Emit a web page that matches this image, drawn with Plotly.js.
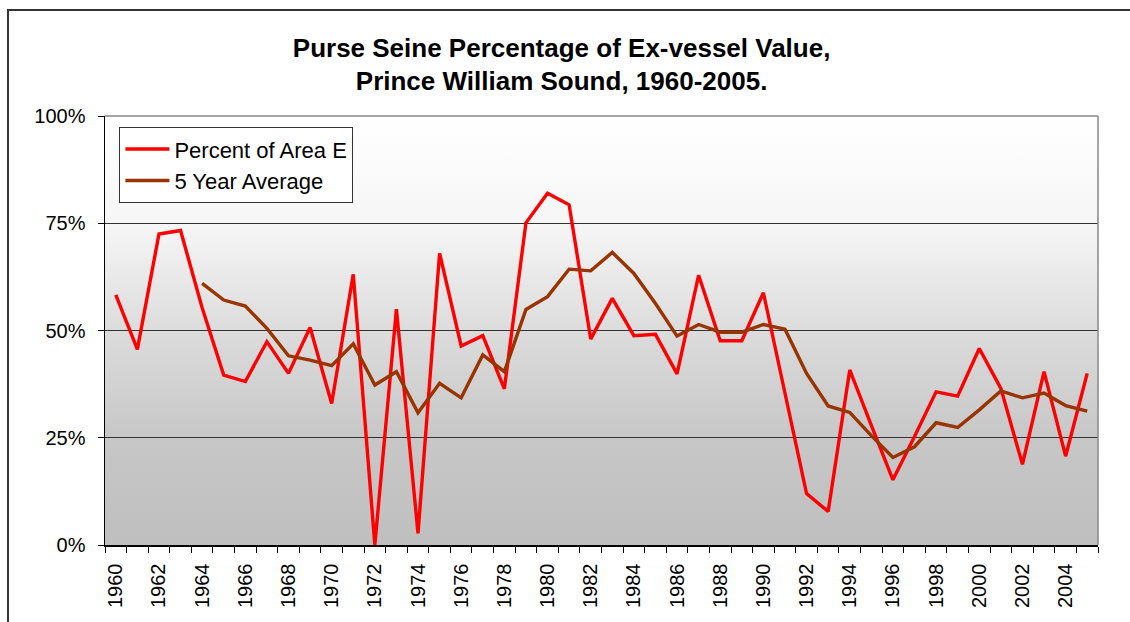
<!DOCTYPE html>
<html>
<head>
<meta charset="utf-8">
<script src="https://cdn.plot.ly/plotly-3.0.1.min.js"></script>
<style>
  html, body { margin: 0; padding: 0; background: #ffffff; overflow: hidden; }
  #chart { width: 1130px; height: 622px; position: relative; }
  #frame { position: absolute; left: 7px; top: 9px; width: 1200px; height: 700px;
           border-left: 2px solid #333333; border-top: 2px solid #333333; pointer-events: none; }
</style>
</head>
<body>
<div id="chart"></div>
<div id="frame"></div>
<script>
// ---- data ----
const years = [1960,1961,1962,1963,1964,1965,1966,1967,1968,1969,
               1970,1971,1972,1973,1974,1975,1976,1977,1978,1979,
               1980,1981,1982,1983,1984,1985,1986,1987,1988,1989,
               1990,1991,1992,1993,1994,1995,1996,1997,1998,1999,
               2000,2001,2002,2003,2004,2005];

const percentOfAreaE = [58.3,45.6,72.5,73.3,55.3,39.6,38.1,47.4,40.0,50.7,
                        33.0,63.1,0.0,55.0,2.7,68.0,46.4,48.8,36.4,75.1,
                        82.0,79.3,48.0,57.5,48.8,49.1,39.9,62.9,47.6,47.6,
                        58.8,35.4,12.0,7.8,40.8,27.9,15.2,25.3,35.7,34.7,
                        45.8,36.5,18.8,40.4,20.7,40.0];

const fiveYearAverage = [null,null,null,null,61.0,57.1,55.7,50.5,44.1,43.1,
                         41.8,46.9,37.3,40.4,30.8,37.7,34.3,44.3,40.4,54.9,
                         57.9,64.3,63.9,68.2,63.3,56.3,48.7,51.4,49.6,49.6,
                         51.4,50.3,40.0,32.4,30.9,25.5,20.4,22.9,28.5,27.4,
                         31.5,35.9,34.3,35.4,32.5,31.2];

const tickYears = [1960,1962,1964,1966,1968,1970,1972,1974,1976,1978,1980,
                   1982,1984,1986,1988,1990,1992,1994,1996,1998,2000,2002,2004];
const tickLabels = tickYears.map(String);
const yTicks = [0,25,50,75,100];
const yTickLabels = ["0%","25%","50%","75%","100%"];

const seriesNames = ["Percent of Area E", "5 Year Average"];
const titleText = "Purse Seine Percentage of Ex-vessel Value,<br>Prince William Sound, 1960-2005.";

// ---- background gradient as an inline SVG image ----
const gradSvg = '<svg xmlns="http://www.w3.org/2000/svg" width="100" height="100" preserveAspectRatio="none">' +
  '<defs><linearGradient id="g" x1="0" y1="0" x2="0" y2="1">' +
  '<stop offset="0" stop-color="#ffffff"/>' +
  '<stop offset="0.25" stop-color="#f6f6f6"/>' +
  '<stop offset="0.5" stop-color="#dcdcdc"/>' +
  '<stop offset="0.75" stop-color="#c7c7c7"/>' +
  '<stop offset="1" stop-color="#bfbfbf"/>' +
  '</linearGradient></defs><rect width="100" height="100" fill="url(#g)"/></svg>';
const gradUri = 'data:image/svg+xml;base64,' + btoa(gradSvg);

const FONT = '"Liberation Sans", Arial, sans-serif';

const traces = [
  {
    x: years, y: percentOfAreaE, name: seriesNames[0],
    type: 'scatter', mode: 'lines',
    line: { color: '#ff0000', width: 3.4 },
    legendgroup: 'a', hoverinfo: 'x+y'
  },
  {
    x: years, y: fiveYearAverage, name: seriesNames[1],
    type: 'scatter', mode: 'lines', connectgaps: false,
    line: { color: '#993300', width: 3.4 },
    legendgroup: 'b', hoverinfo: 'x+y'
  }
];

const layout = {
  width: 1130, height: 622,
  margin: { l: 105, r: 32, t: 116, b: 77, pad: 0 },
  paper_bgcolor: '#ffffff',
  plot_bgcolor: 'rgba(0,0,0,0)',
  font: { family: FONT, color: '#000000', size: 20 },
  title: {
    text: titleText,
    font: { family: FONT, size: 26, color: '#000000', weight: 'bold' },
    x: 0.497, xref: 'container', xanchor: 'center',
    y: 0.909, yref: 'container', yanchor: 'top'
  },
  showlegend: true,
  legend: {
    x: 0.0145, y: 0.974, xanchor: 'left', yanchor: 'top',
    bgcolor: '#ffffff', bordercolor: '#333333', borderwidth: 1,
    font: { family: FONT, size: 22, color: '#000000' },
    tracegroupgap: 0,
    itemwidth: 44,
    traceorder: 'normal'
  },
  xaxis: {
    range: [1959.5, 2005.5],
    tickmode: 'array', tickvals: tickYears, ticktext: tickLabels,
    tickangle: -90,
    ticks: 'outside', ticklen: 6, tickcolor: 'rgba(0,0,0,0)',
    ticklabelstandoff: 3,
    minor: { tick0: 1959.5, dtick: 1, ticks: 'outside', ticklen: 6, tickcolor: '#000000', tickwidth: 1, showgrid: false },
    tickfont: { family: FONT, size: 20, color: '#000000' },
    showline: true, linecolor: '#000000', linewidth: 1.5,
    showgrid: false, zeroline: false, fixedrange: true
  },
  yaxis: {
    range: [0, 100],
    tickmode: 'array', tickvals: yTicks, ticktext: yTickLabels,
    ticks: 'outside', ticklen: 6, tickcolor: '#000000', tickwidth: 1,
    ticklabelstandoff: 8,
    tickfont: { family: FONT, size: 20, color: '#000000' },
    showline: true, linecolor: '#000000', linewidth: 1.5,
    showgrid: true, gridcolor: '#333333', gridwidth: 1,
    zeroline: false, fixedrange: true
  },
  images: [{
    source: gradUri, xref: 'paper', yref: 'paper',
    x: 0, y: 1, sizex: 1, sizey: 1, xanchor: 'left', yanchor: 'top',
    sizing: 'stretch', layer: 'below'
  }],
  shapes: [
    { type: 'line', xref: 'paper', yref: 'paper', x0: 0, x1: 1, y0: 1, y1: 1,
      line: { color: '#888888', width: 1.5 }, layer: 'above' },
    { type: 'line', xref: 'paper', yref: 'paper', x0: 1, x1: 1, y0: 0, y1: 1,
      line: { color: '#888888', width: 1.5 }, layer: 'above' }
  ]
};

Plotly.newPlot('chart', traces, layout, { staticPlot: true, displayModeBar: false });
</script>
</body>
</html>
